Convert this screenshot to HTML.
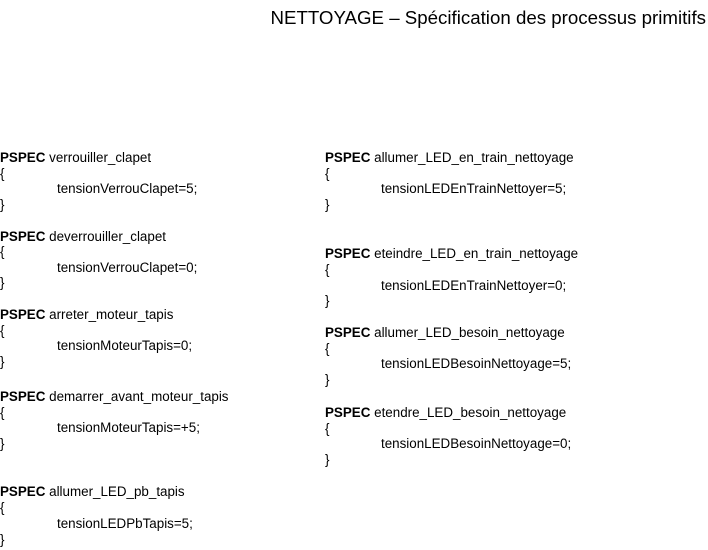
<!DOCTYPE html>
<html><head><meta charset="utf-8"><style>
body{margin:0;width:708px;height:550px;background:#fff;position:relative;overflow:hidden;font-family:"Liberation Sans",Arial,sans-serif;color:#000}
.t{position:absolute;font-size:13.4px;line-height:16px;white-space:nowrap;margin-top:-1px}
b{font-weight:bold}
.title{position:absolute;right:2px;top:6px;font-size:18.7px;line-height:24px;white-space:nowrap}
</style></head><body>
<div class="title">NETTOYAGE – Spécification des processus primitifs</div>

<div class="t" style="left:0;top:151px"><b>PSPEC</b> verrouiller_clapet</div>
<div class="t" style="left:0;top:167px">{</div>
<div class="t" style="left:57px;top:182px">tensionVerrouClapet=5;</div>
<div class="t" style="left:0;top:198px">}</div>

<div class="t" style="left:0;top:230px"><b>PSPEC</b> deverrouiller_clapet</div>
<div class="t" style="left:0;top:245px">{</div>
<div class="t" style="left:57px;top:261px">tensionVerrouClapet=0;</div>
<div class="t" style="left:0;top:276px">}</div>

<div class="t" style="left:0;top:308px"><b>PSPEC</b> arreter_moteur_tapis</div>
<div class="t" style="left:0;top:324px">{</div>
<div class="t" style="left:57px;top:339px">tensionMoteurTapis=0;</div>
<div class="t" style="left:0;top:355px">}</div>

<div class="t" style="left:0;top:390px"><b>PSPEC</b> demarrer_avant_moteur_tapis</div>
<div class="t" style="left:0;top:406px">{</div>
<div class="t" style="left:57px;top:421px">tensionMoteurTapis=+5;</div>
<div class="t" style="left:0;top:437px">}</div>

<div class="t" style="left:0;top:485px"><b>PSPEC</b> allumer_LED_pb_tapis</div>
<div class="t" style="left:0;top:501px">{</div>
<div class="t" style="left:57px;top:517px">tensionLEDPbTapis=5;</div>
<div class="t" style="left:0;top:533px">}</div>

<div class="t" style="left:325px;top:151px"><b>PSPEC</b> allumer_LED_en_train_nettoyage</div>
<div class="t" style="left:325px;top:167px">{</div>
<div class="t" style="left:381px;top:182px">tensionLEDEnTrainNettoyer=5;</div>
<div class="t" style="left:325px;top:198px">}</div>

<div class="t" style="left:325px;top:247px"><b>PSPEC</b> eteindre_LED_en_train_nettoyage</div>
<div class="t" style="left:325px;top:263px">{</div>
<div class="t" style="left:381px;top:279px">tensionLEDEnTrainNettoyer=0;</div>
<div class="t" style="left:325px;top:294px">}</div>

<div class="t" style="left:325px;top:326px"><b>PSPEC</b> allumer_LED_besoin_nettoyage</div>
<div class="t" style="left:325px;top:342px">{</div>
<div class="t" style="left:381px;top:357px">tensionLEDBesoinNettoyage=5;</div>
<div class="t" style="left:325px;top:373px">}</div>

<div class="t" style="left:325px;top:406px"><b>PSPEC</b> etendre_LED_besoin_nettoyage</div>
<div class="t" style="left:325px;top:422px">{</div>
<div class="t" style="left:381px;top:437px">tensionLEDBesoinNettoyage=0;</div>
<div class="t" style="left:325px;top:453px">}</div>
</body></html>
